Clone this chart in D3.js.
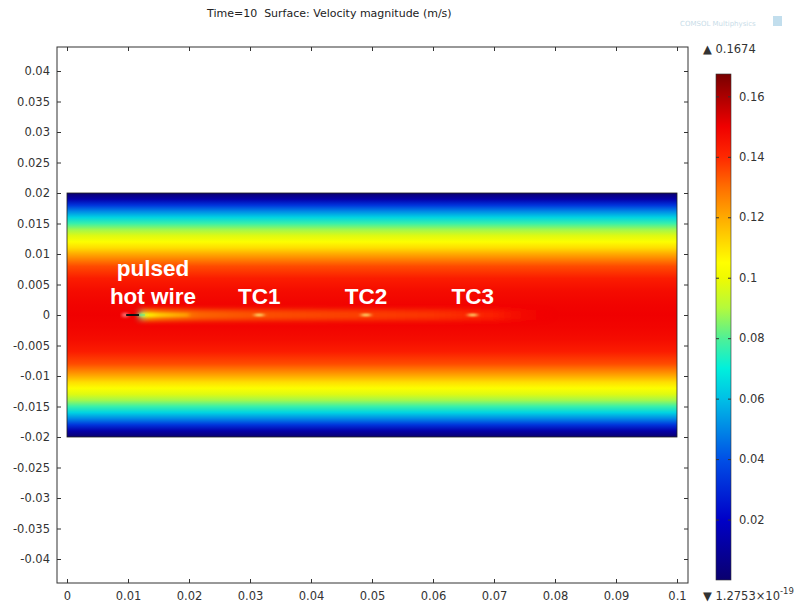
<!DOCTYPE html>
<html>
<head>
<meta charset="utf-8">
<script src="https://cdn.jsdelivr.net/npm/d3@7"></script>
<style>
  body { margin: 0; background: #fff; }
  svg { display: block; }
  .tick text { font-family: "DejaVu Sans", sans-serif; font-size: 11.5px; fill: #333; }
  .tick line { stroke: #333; }
</style>
</head>
<body>
<svg id="chart" width="803" height="603"></svg>
<script>
// velocity profile across the channel (y in m, speed in m/s)
const profileY = [-0.02, -0.019, -0.018, -0.017, -0.016, -0.015, -0.014, -0.013, -0.012, -0.011, -0.01, -0.008, -0.006, -0.004, -0.002, 0,
                  0.002, 0.004, 0.006, 0.008, 0.01, 0.011, 0.012, 0.013, 0.014, 0.015, 0.016, 0.017, 0.018, 0.019, 0.02];
const profileV = [0, 0.013, 0.033, 0.05, 0.064, 0.077, 0.088, 0.097, 0.104, 0.111, 0.12, 0.135, 0.143, 0.147, 0.149, 0.15,
                  0.149, 0.147, 0.143, 0.135, 0.12, 0.111, 0.104, 0.097, 0.088, 0.077, 0.064, 0.05, 0.033, 0.013, 0];

// speed along the centre line behind the hot wire
const wakeX = [0.0118, 0.0125, 0.0135, 0.015, 0.018, 0.022, 0.03, 0.04, 0.05, 0.06, 0.07, 0.08];
const wakeV = [0.07, 0.095, 0.108, 0.114, 0.12, 0.126, 0.13, 0.132, 0.134, 0.136, 0.14, 0.148];

// hot wire and thermocouples
const wireX = [0.0097, 0.0118];
const probeNames = ["TC1", "TC2", "TC3"];
const probeX = [0.0315, 0.049, 0.0665];

// colour legend
const vMin = 1.2753e-19, vMax = 0.1674;
const cmapV = [0, 0.02, 0.04, 0.06, 0.07, 0.08, 0.09, 0.1, 0.105, 0.12, 0.13, 0.14, 0.15, 0.1674];
const cmapC = ["#0a006e", "#0000c8", "#0050e6", "#00c0e6", "#00f0dc", "#50f096", "#b4fa3c", "#f0fa00",
               "#ffff00", "#ffaa00", "#ff6e00", "#ff2800", "#f00000", "#780000"];
const cbarTicks = [0.02, 0.04, 0.06, 0.08, 0.1, 0.12, 0.14, 0.16];
const cbarLabels = ["0.02", "0.04", "0.06", "0.08", "0.1", "0.12", "0.14", "0.16"];

const xTicks = [0, 0.01, 0.02, 0.03, 0.04, 0.05, 0.06, 0.07, 0.08, 0.09, 0.1];
const xLabels = ["0", "0.01", "0.02", "0.03", "0.04", "0.05", "0.06", "0.07", "0.08", "0.09", "0.1"];
const yTicks = [0.04, 0.035, 0.03, 0.025, 0.02, 0.015, 0.01, 0.005, 0, -0.005, -0.01, -0.015, -0.02, -0.025, -0.03, -0.035, -0.04];
const yLabels = ["0.04", "0.035", "0.03", "0.025", "0.02", "0.015", "0.01", "0.005", "0", "-0.005", "-0.01", "-0.015", "-0.02", "-0.025", "-0.03", "-0.035", "-0.04"];

const svg = d3.select("#chart");
const frame = { left: 57, right: 688, top: 47, bottom: 583 };

const x = d3.scaleLinear().domain([0, 0.1]).range([67, 677]);
const y = d3.scaleLinear().domain([0, 0.04]).range([315, 71]);
const color = d3.scaleLinear().domain(cmapV).range(cmapC).clamp(true);

const defs = svg.append("defs");

// vertical gradient built from the channel profile
const grad = defs.append("linearGradient")
    .attr("id", "profile")
    .attr("gradientUnits", "userSpaceOnUse")
    .attr("x1", 0).attr("x2", 0)
    .attr("y1", y(0.02)).attr("y2", y(-0.02));
profileY.slice().reverse().forEach((py, i) => {
    const v = profileV[profileV.length - 1 - i];
    grad.append("stop")
        .attr("offset", (y(py) - y(0.02)) / (y(-0.02) - y(0.02)))
        .attr("stop-color", color(v));
});

const wakeGrad = defs.append("linearGradient")
    .attr("id", "wake")
    .attr("gradientUnits", "userSpaceOnUse")
    .attr("x1", x(wakeX[0])).attr("x2", x(wakeX[wakeX.length - 1]))
    .attr("y1", 0).attr("y2", 0);
wakeX.forEach((wx, i) => {
    wakeGrad.append("stop")
        .attr("offset", (x(wx) - x(wakeX[0])) / (x(wakeX[wakeX.length - 1]) - x(wakeX[0])))
        .attr("stop-color", color(wakeV[i]))
        .attr("stop-opacity", i === wakeX.length - 1 ? 0 : 1);
});

defs.append("filter").attr("id", "blur").attr("x", "-20%").attr("y", "-300%").attr("width", "140%").attr("height", "700%")
    .append("feGaussianBlur").attr("stdDeviation", "3 2.5");
defs.append("filter").attr("id", "blur2").attr("x", "-50%").attr("y", "-300%").attr("width", "200%").attr("height", "700%")
    .append("feGaussianBlur").attr("stdDeviation", "2 0.8");

defs.append("clipPath").attr("id", "domain")
    .append("rect")
    .attr("x", x(0)).attr("y", y(0.02))
    .attr("width", x(0.1) - x(0)).attr("height", y(-0.02) - y(0.02));

// surface plot
const field = svg.append("g").attr("clip-path", "url(#domain)");
field.append("rect")
    .attr("x", x(0)).attr("y", y(0.02))
    .attr("width", x(0.1) - x(0)).attr("height", y(-0.02) - y(0.02))
    .attr("fill", "url(#profile)");

// wake behind the wire: a diffuse band plus a thin core
field.append("rect")
    .attr("x", x(wakeX[0])).attr("y", y(0.0009))
    .attr("width", x(wakeX[wakeX.length - 1]) - x(wakeX[0]))
    .attr("height", y(-0.0009) - y(0.0009))
    .attr("fill", "url(#wake)")
    .attr("opacity", 0.75)
    .attr("filter", "url(#blur)");
field.append("rect")
    .attr("x", x(wakeX[0])).attr("y", y(0.0003))
    .attr("width", x(0.02) - x(wakeX[0]))
    .attr("height", y(-0.0003) - y(0.0003))
    .attr("fill", "url(#wake)")
    .attr("filter", "url(#blur2)");

// thermocouple streaks
field.selectAll(".probe")
    .data(probeX)
    .join("ellipse")
    .attr("cx", d => x(d))
    .attr("cy", y(0))
    .attr("rx", 5).attr("ry", 1.2)
    .attr("fill", "#fff07a")
    .attr("filter", "url(#blur2)");

// wire
field.append("circle")
    .attr("cx", x(wireX[0]) - 1).attr("cy", y(0)).attr("r", 2.5)
    .attr("fill", "#ff9090").attr("filter", "url(#blur2)");
field.append("line")
    .attr("x1", x(wireX[0])).attr("x2", x(wireX[1]))
    .attr("y1", y(0)).attr("y2", y(0))
    .attr("stroke", "#111").attr("stroke-width", 2);
field.append("line")
    .attr("x1", x(wireX[1])).attr("x2", x(wireX[1]) + 6)
    .attr("y1", y(0)).attr("y2", y(0))
    .attr("stroke", "#60e090").attr("stroke-width", 1.2).attr("opacity", 0.8);

// domain outline
svg.append("rect")
    .attr("x", x(0)).attr("y", y(0.02))
    .attr("width", x(0.1) - x(0)).attr("height", y(-0.02) - y(0.02))
    .attr("fill", "none").attr("stroke", "#222").attr("stroke-width", 0.8);

// axes
const yFmt = d => yLabels[yTicks.indexOf(d)];
const xFmt = d => xLabels[xTicks.indexOf(d)];

svg.append("g").attr("transform", `translate(${frame.left},0)`)
    .call(d3.axisLeft(y).tickValues(yTicks).tickFormat(yFmt).tickSizeInner(-4).tickSizeOuter(0).tickPadding(7))
    .call(g => g.select(".domain").remove());
svg.append("g").attr("transform", `translate(${frame.right},0)`)
    .call(d3.axisRight(y).tickValues(yTicks).tickFormat("").tickSizeInner(-4).tickSizeOuter(0))
    .call(g => g.select(".domain").remove());
svg.append("g").attr("transform", `translate(0,${frame.bottom})`)
    .call(d3.axisBottom(x).tickValues(xTicks).tickFormat(xFmt).tickSizeInner(-4).tickSizeOuter(0).tickPadding(9))
    .call(g => g.select(".domain").remove());
svg.append("g").attr("transform", `translate(0,${frame.top})`)
    .call(d3.axisTop(x).tickValues(xTicks).tickFormat("").tickSizeInner(-4).tickSizeOuter(0))
    .call(g => g.select(".domain").remove());

svg.append("rect")
    .attr("x", frame.left).attr("y", frame.top)
    .attr("width", frame.right - frame.left).attr("height", frame.bottom - frame.top)
    .attr("fill", "none").attr("stroke", "#333").attr("stroke-width", 1);

// title
svg.append("text")
    .attr("x", 207).attr("y", 17)
    .attr("font-family", "DejaVu Sans, sans-serif").attr("font-size", 11).attr("fill", "#222")
    .attr("xml:space", "preserve")
    .text("Time=10  Surface: Velocity magnitude (m/s)");

// annotations
const ann = svg.append("g")
    .attr("font-family", "Liberation Sans, Arial, sans-serif")
    .attr("font-weight", "bold").attr("font-size", 22.5)
    .attr("fill", "#fff").attr("text-anchor", "middle");
ann.append("text").attr("x", x(0.0141)).attr("y", y(0.0064)).text("pulsed");
ann.append("text").attr("x", x(0.0141)).attr("y", y(0.0018)).text("hot wire");
ann.selectAll(".tc")
    .data(probeNames)
    .join("text")
    .attr("x", (d, i) => x(probeX[i]))
    .attr("y", y(0.0018))
    .text(d => d);

// colour bar
const cb = d3.scaleLinear().domain([vMin, vMax]).range([580, 74]);
const cbX = 716, cbW = 15;
const cbGrad = defs.append("linearGradient")
    .attr("id", "cbar")
    .attr("x1", 0).attr("x2", 0).attr("y1", 1).attr("y2", 0);
cmapV.forEach((v, i) => {
    cbGrad.append("stop")
        .attr("offset", (v - vMin) / (vMax - vMin))
        .attr("stop-color", cmapC[i]);
});
svg.append("rect")
    .attr("x", cbX).attr("y", cb(vMax))
    .attr("width", cbW).attr("height", cb(vMin) - cb(vMax))
    .attr("fill", "url(#cbar)")
    .attr("stroke", "#333").attr("stroke-width", 0.6);

const cbFmt = d => cbarLabels[cbarTicks.indexOf(d)];
svg.append("g").attr("transform", `translate(${cbX + cbW},0)`)
    .call(d3.axisRight(cb).tickValues(cbarTicks).tickFormat(cbFmt).tickSizeInner(-3).tickSizeOuter(0).tickPadding(8))
    .call(g => g.select(".domain").remove());
svg.append("g").attr("transform", `translate(${cbX},0)`)
    .call(d3.axisLeft(cb).tickValues(cbarTicks).tickFormat("").tickSizeInner(-3).tickSizeOuter(0))
    .call(g => g.select(".domain").remove());

const lab = svg.append("g")
    .attr("font-family", "DejaVu Sans, sans-serif").attr("font-size", 11.5).attr("fill", "#333");
lab.append("text").attr("x", 703).attr("y", 53).text("\u25B2 " + vMax);
const minT = lab.append("text").attr("x", 703).attr("y", 600);
minT.append("tspan").text("\u25BC 1.2753\u00D710");
minT.append("tspan").attr("dy", -6).attr("font-size", 8.5).text("-19");

// faint watermark
svg.append("text")
    .attr("x", 680).attr("y", 26)
    .attr("font-family", "DejaVu Sans, sans-serif").attr("font-size", 7).attr("fill", "#c8dce8")
    .text("COMSOL Multiphysics");
svg.append("rect")
    .attr("x", 773).attr("y", 16).attr("width", 9).attr("height", 10)
    .attr("fill", "#a8d0e6").attr("opacity", 0.7);
</script>
</body>
</html>
